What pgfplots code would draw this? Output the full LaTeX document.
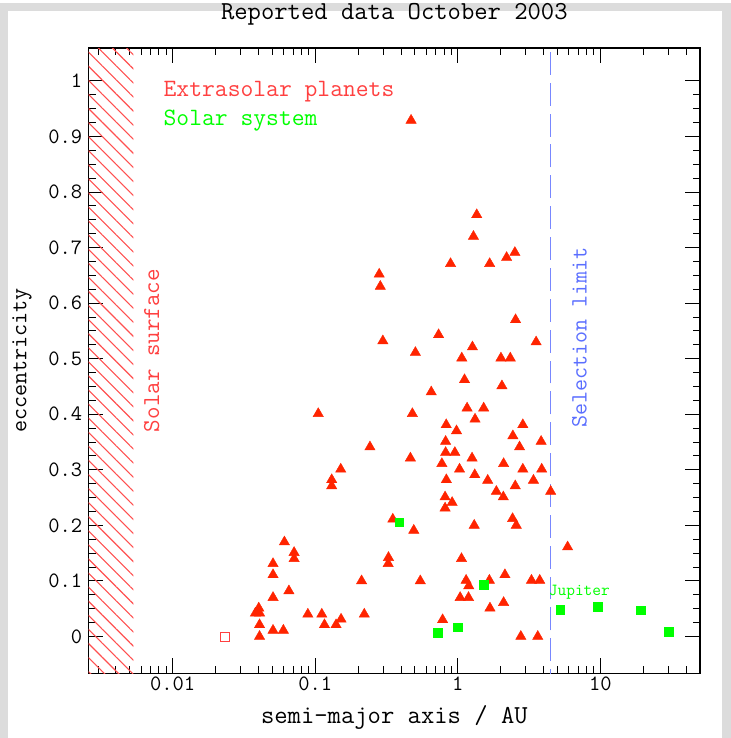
\documentclass[border=0pt]{standalone}
\usepackage{pgfplots}
\pgfplotsset{compat=1.18}
\usetikzlibrary{patterns.meta}
\renewcommand{\familydefault}{\ttdefault}

\definecolor{tri}{RGB}{255,36,0}
\definecolor{ssgreen}{RGB}{0,255,0}
\definecolor{txtred}{RGB}{255,64,64}
\definecolor{hatchred}{RGB}{255,80,80}
\definecolor{selblue}{RGB}{120,135,255}
\definecolor{seltext}{RGB}{90,110,255}
\definecolor{framegray}{RGB}{220,220,220}
\newcommand{\fs}[1]{\fontsize{#1}{#1}\selectfont}

% semi-major axis (AU), eccentricity
\pgfplotstableread{
a e
0.470 0.929
1.357 0.759
1.287 0.720
0.889 0.671
1.672 0.671
2.198 0.682
2.512 0.691
0.281 0.652
0.286 0.630
0.298 0.532
0.733 0.543
2.540 0.570
3.540 0.530
0.504 0.511
1.266 0.521
1.066 0.501
2.006 0.501
2.332 0.501
1.114 0.462
2.038 0.451
0.651 0.440
0.105 0.401
0.480 0.401
1.161 0.411
1.518 0.411
1.320 0.391
0.829 0.381
0.979 0.370
2.856 0.381
2.432 0.361
3.838 0.351
0.821 0.351
2.709 0.341
0.242 0.341
0.821 0.331
0.953 0.331
0.465 0.321
1.258 0.321
0.773 0.311
2.094 0.311
1.028 0.301
2.856 0.301
3.875 0.301
0.151 0.301
1.314 0.291
1.620 0.281
0.831 0.282
3.391 0.281
0.1305 0.282
0.1305 0.271
2.527 0.271
1.863 0.261
4.478 0.261
2.084 0.251
0.814 0.251
0.912 0.241
0.814 0.231
2.420 0.212
0.350 0.211
1.303 0.200
2.568 0.200
0.491 0.191
0.0608 0.170
5.886 0.161
0.0711 0.151
0.0711 0.140
1.061 0.140
0.3264 0.142
0.3248 0.131
0.0506 0.131
0.0506 0.111
2.139 0.111
0.2114 0.100
0.5456 0.100
1.143 0.101
1.193 0.091
1.664 0.101
3.284 0.101
3.752 0.101
0.0654 0.082
0.0506 0.070
1.038 0.070
1.188 0.070
2.094 0.061
1.680 0.051
0.0402 0.051
0.0381 0.042
0.0407 0.042
0.0888 0.040
0.1112 0.040
0.2208 0.040
0.1518 0.031
0.782 0.030
0.0407 0.021
0.1161 0.021
0.1400 0.021
0.0506 0.011
0.0598 0.011
0.0407 0.000
2.765 0.000
3.635 0.000
}\exoplanets

\pgfplotstableread{
a e
0.387 0.206
0.723 0.007
1.000 0.017
1.524 0.093
5.203 0.048
9.537 0.054
19.19 0.047
30.07 0.009
}\solarsys

\begin{document}
\begin{tikzpicture}[x=1pt,y=1pt]
\fill[framegray] (-89,-65) rectangle (645,673);
\fill[white] (-81,-65) rectangle (636,665);
\begin{axis}[
  at={(0,0)}, anchor=south west,
  scale only axis, width=614.3pt, height=628pt,
  xmode=log,
  xmin=0.002576, xmax=50,
  ymin=-0.0663, ymax=1.059,
  xtick={0.01,0.1,1,10},
  xticklabels={0.01,0.1,1,10},
  minor xtick={0.003,0.004,0.005,0.006,0.007,0.008,0.009,
               0.02,0.03,0.04,0.05,0.06,0.07,0.08,0.09,
               0.2,0.3,0.4,0.5,0.6,0.7,0.8,0.9,
               2,3,4,5,6,7,8,9,20,30,40},
  ytick={0,0.1,0.2,0.3,0.4,0.5,0.6,0.7,0.8,0.9,1},
  yticklabels={0,0.1,0.2,0.3,0.4,0.5,0.6,0.7,0.8,0.9,1},
  minor y tick num=3,
  major tick length=15pt, minor tick length=7pt,
  tick style={black, line width=0.9pt},
  axis line style={line width=1.3pt},
  /pgf/number format/assume math mode=true,
  tick label style={font=\fs{22}},
  yticklabel style={xshift=-3pt},
  title={Reported data October 2003},
  title style={font=\fs{26}, at={(axis description cs:0.5,1.0446)}, anchor=center},
  xlabel={semi\textendash major axis / AU},
  xlabel style={font=\fs{26}, at={(axis description cs:0.5,-0.0701)}, anchor=center},
  ylabel={eccentricity},
  ylabel style={font=\fs{23.5}, at={(axis description cs:-0.109,0.5)}, anchor=center},
]
% hatched region inside the solar surface
\addplot[draw=none, pattern={Lines[angle=-45, distance=10pt, line width=1.1pt]}, pattern color=hatchred]
  coordinates {(0.002,-0.2) (0.0053,-0.2) (0.0053,1.2) (0.002,1.2) (0.002,-0.2)};
% selection limit
\addplot[selblue, line width=1.2pt, dash pattern=on 23pt off 8pt]
  coordinates {(4.46,-0.1) (4.46,1.1)};

\addplot[only marks, mark=triangle*, mark size=6pt, color=tri] table {\exoplanets};
\addplot[only marks, mark=square, mark size=4.5pt, color=txtred, mark options={line width=0.8pt}]
  coordinates {(0.0233,0.0)};
\addplot[only marks, mark=square*, mark size=4.3pt, color=ssgreen] table {\solarsys};

\node[txtred, anchor=base west, font=\fs{25}] at (rel axis cs:0.117,0.922) {Extrasolar planets};
\node[ssgreen, anchor=base west, font=\fs{25}] at (rel axis cs:0.117,0.877) {Solar system};
\node[txtred, rotate=90, font=\fs{24.4}] at (rel axis cs:0.1034,0.516) {Solar surface};
\node[seltext, rotate=90, font=\fs{23.5}] at (rel axis cs:0.8025,0.537) {Selection limit};
\node[ssgreen, font=\fs{17}] at (rel axis cs:0.8025,0.129) {Jupiter};
\end{axis}
\end{tikzpicture}
\end{document}
